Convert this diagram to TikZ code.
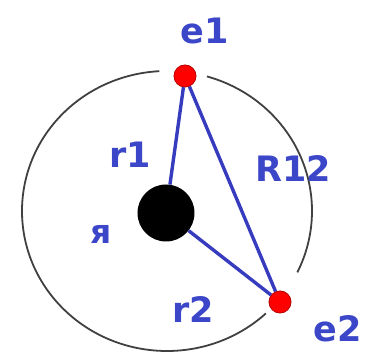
\documentclass[tikz,border=0pt]{standalone}
\usepackage{fontspec}
\setmainfont{DejaVu Sans}
\definecolor{lblblue}{RGB}{60,70,200}
\definecolor{bondblue}{RGB}{55,60,190}
\tikzset{
    shell/.style={line width=1.8pt, draw=black!75},
    bond/.style={line width=3.4pt, draw=bondblue},
    nucleus/.style={circle, fill=black, inner sep=0pt, minimum size=57pt},
    electron/.style={circle, fill=red, draw=red!70!black, line width=0.6pt, inner sep=0pt, minimum size=22pt},
    lbl/.style={text=lblblue, font=\bfseries\fontsize{35}{35}\selectfont}
}
\begin{document}
\begin{tikzpicture}[x=1pt, y=-1pt]
    % Parameters
    \def\cx{167}
    \def\cy{211}
    \def\rx{145}
    \def\ry{140}
    \useasboundingbox (0,0) rectangle (368,358);

    % Broken shell
    \draw[shell] (\cx,\cy) ++(-74:{\rx} and {\ry}) arc[start angle=-74, end angle=26, x radius=\rx, y radius=\ry];
    \draw[shell] (\cx,\cy) ++(47:{\rx} and {\ry}) arc[start angle=47, end angle=267, x radius=\rx, y radius=\ry];

    % Nucleus and electrons
    \node[nucleus] (nuc) at (166,213) {};
    \node[electron] (e1) at (185,76) {};
    \node[electron] (e2) at (280,302) {};

    % Distances
    \draw[bond] (nuc) -- (e1);
    \draw[bond] (nuc) -- (e2);
    \draw[bond] (e1) -- (e2);
    \node[electron] at (e1) {};
    \node[electron] at (e2) {};

    % Labels
    \node[lbl] (le1) at (205,31) {e1};
    \node[lbl] (lr1) at (130,155) {r1};
    \node[lbl] (lr12) at (293,169) {R12};
    \node[lbl, font=\bfseries\fontsize{33}{33}\selectfont] (lya) at (101,234) {я};
    \node[lbl] (lr2) at (193,310) {r2};
    \node[lbl] (le2) at (338,329) {e2};
\end{tikzpicture}
\end{document}
